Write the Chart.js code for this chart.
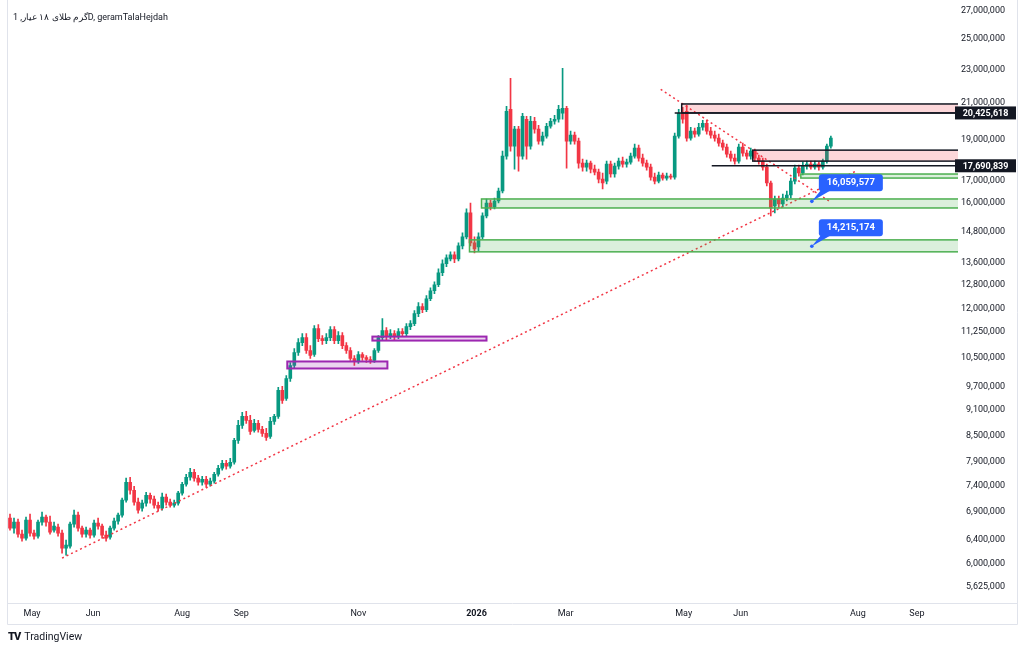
<!DOCTYPE html>
<html lang="fa">
<head>
<meta charset="UTF-8">
<title>گرم طلای ۱۸ عیار, 1D</title>
<script src="https://cdn.jsdelivr.net/npm/chart.js"></script>
<style>
    body {
        margin: 0;
        background: #fff;
        font-family: Roboto, "Noto Sans", sans-serif;
    }
    #wrap {
        position: relative;
        width: 1024px;
        height: 650px;
        overflow: hidden;
    }
    #title {
        position: absolute;
        left: 13px;
        top: 12px;
        font-size: 9px;
        color: #131722;
        direction: ltr;
    }
    #logo {
        position: absolute;
        left: 8px;
        top: 630px;
        font-size: 10.5px;
        color: #131722;
    }
    #logo b {
        font-weight: 900;
        font-size: 11px;
        letter-spacing: -1px;
        margin-right: 4px;
    }
</style>
</head>
<body>
<div id="wrap">
    <canvas id="chart" width="1024" height="650"></canvas>
    <div id="title">گرم طلای ۱۸ عیار, 1D, geramTalaHejdah</div>
    <div id="logo"><b>TV</b>TradingView</div>
</div>
<script>
    // daily candles, prices in thousands
    const opens = [
        6784, 6602, 6711, 6495, 6425, 6747, 6513, 6460, 6711, 6802,
        6711, 6566, 6620, 6513, 6253, 6287, 6674, 6839, 6602, 6495,
        6566, 6477, 6692, 6638, 6477, 6442, 6602, 6729, 6839, 7124,
        7481, 7320, 7086, 6970, 7066, 7221, 7143, 7027, 6970, 7182,
        7086, 7027, 7066, 7261, 7440, 7583, 7687, 7563, 7481, 7542,
        7440, 7502, 7645, 7771, 7877, 7813, 7898, 8384, 8732, 8949,
        8852, 8615, 8780, 8639, 8545, 8476, 8828, 8949, 9602, 9396,
        9920, 10276, 10646, 10938, 11087, 10703, 10588, 11362, 11057, 10997,
        11087, 11331, 10997, 11147, 10849, 10703, 10474, 10389, 10588, 10503,
        10446, 10417, 10703, 11087, 11300, 11117, 11208, 11117, 11269, 11208,
        11423, 11516, 11833, 12059, 11961, 12323, 12594, 12801, 13225, 13552,
        13736, 13886, 13736, 14229, 14581, 15561, 14346, 14191, 14581, 15435,
        15989, 15816, 16076, 16517, 18162, 20631, 18661, 19542, 18162, 20079,
        18661, 19970, 19542, 18916, 19174, 19701, 19970, 20079, 20409, 20687,
        18916, 19226, 18916, 17821, 17628, 17821, 17533, 17392, 17064, 16971,
        17772, 17299, 17676, 17917, 17772, 17869, 18162, 18561, 18064, 17821,
        17628, 17157, 16971, 17252, 17110, 17203, 17157, 19174, 20409, 20519,
        19071, 19436, 19279, 19648, 19862, 19436, 19226, 19071, 18814, 18611,
        18261, 18064, 17917, 18611, 18311, 18162, 18410, 18064, 17917, 17628,
        16881, 15859, 16164, 15946, 16207, 16339, 16971, 17581, 17345, 17676,
        17772, 17628, 17772, 17628, 17917, 18661
    ];
    const highs = [
        6858, 6784, 6765, 6566, 6802, 6858, 6566, 6747, 6896, 6839,
        6821, 6711, 6674, 6566, 6390, 6711, 6933, 6896, 6638, 6620,
        6602, 6747, 6784, 6674, 6548, 6638, 6784, 6877, 7163, 7563,
        7583, 7400, 7163, 7124, 7280, 7261, 7202, 7086, 7261, 7241,
        7143, 7124, 7300, 7481, 7645, 7771, 7750, 7624, 7604, 7604,
        7563, 7687, 7834, 7941, 7941, 7985, 8430, 8852, 9046, 9071,
        8973, 8876, 8852, 8709, 8662, 8925, 8997, 9681, 9708, 10001,
        10361, 10761, 11057, 11208, 11208, 10849, 11454, 11485, 11147, 11208,
        11423, 11423, 11269, 11239, 10938, 10791, 10559, 10674, 10646, 10559,
        10531, 10761, 11147, 11673, 11393, 11331, 11300, 11362, 11362, 11516,
        11610, 11929, 12192, 12160, 12425, 12697, 12905, 13369, 13699, 13886,
        13999, 13999, 14346, 14740, 15731, 15989, 14581, 14740, 15561, 16164,
        16120, 16207, 16653, 18410, 20799, 22440, 19701, 19701, 20409, 20243,
        20243, 20188, 19755, 19384, 19862, 20134, 20298, 20856, 23057, 20799,
        19436, 19384, 19071, 18015, 17965, 17917, 17724, 17533, 17345, 17917,
        17917, 17821, 18064, 18113, 18015, 18311, 18763, 18712, 18261, 17965,
        17772, 17345, 17392, 17345, 17345, 17299, 19331, 20631, 20743, 20856,
        19648, 19595, 19862, 20025, 20025, 19648, 19436, 19279, 18967, 18763,
        18410, 18261, 18763, 18814, 18460, 18561, 18510, 18211, 18064, 17772,
        16971, 16295, 16295, 16384, 16517, 17110, 17724, 17724, 17869, 17917,
        17917, 17917, 17869, 18015, 18763, 19174
    ];
    const lows = [
        6566, 6513, 6442, 6373, 6390, 6460, 6407, 6425, 6656, 6638,
        6495, 6531, 6460, 6169, 6135, 6253, 6620, 6548, 6442, 6442,
        6425, 6442, 6584, 6425, 6373, 6407, 6566, 6674, 6802, 7086,
        7241, 7027, 6877, 6914, 7008, 7066, 6970, 6914, 6933, 7027,
        6989, 6989, 7027, 7221, 7400, 7522, 7502, 7420, 7420, 7380,
        7400, 7461, 7604, 7729, 7750, 7771, 7855, 8316, 8662, 8780,
        8522, 8569, 8569, 8476, 8384, 8430, 8756, 8900, 9270, 9345,
        9840, 10193, 10559, 10849, 10617, 10474, 10531, 10967, 10879, 10908,
        10997, 10908, 10908, 10761, 10617, 10417, 10276, 10332, 10417, 10361,
        10332, 10361, 10646, 11027, 11027, 11057, 11027, 11057, 11117, 11147,
        11331, 11454, 11737, 11865, 11897, 12257, 12492, 12732, 13117, 13441,
        13662, 13588, 13662, 14113, 14501, 14229, 13961, 14037, 14501, 15352,
        15688, 15731, 15989, 16428, 18015, 18410, 17533, 17438, 18015, 18015,
        18510, 19331, 18763, 18712, 19071, 19595, 19809, 19916, 20079, 17581,
        18763, 18763, 17581, 17438, 17438, 17345, 17252, 16881, 16607, 16835,
        17157, 17157, 17533, 17628, 17628, 17772, 18064, 17917, 17676, 17486,
        17017, 16835, 16881, 17017, 17017, 17064, 17064, 19071, 19862, 18916,
        18967, 19122, 19174, 19489, 19279, 19071, 18916, 18661, 18460, 18113,
        17917, 17772, 17821, 18162, 18015, 18015, 17917, 17772, 17486, 16743,
        15435, 15561, 15773, 15816, 16076, 16207, 16835, 17203, 17252, 17533,
        17533, 17533, 17486, 17533, 17821, 18561
    ];
    const closes = [
        6602, 6711, 6495, 6425, 6747, 6513, 6460, 6711, 6802, 6711,
        6531, 6638, 6513, 6253, 6304, 6674, 6839, 6602, 6495, 6566,
        6477, 6692, 6638, 6477, 6425, 6602, 6729, 6839, 7124, 7481,
        7320, 7086, 6933, 7066, 7221, 7143, 7027, 6970, 7182, 7086,
        7027, 7066, 7261, 7440, 7583, 7687, 7563, 7481, 7542, 7440,
        7502, 7645, 7771, 7877, 7813, 7898, 8384, 8732, 8949, 8852,
        8592, 8780, 8639, 8545, 8453, 8828, 8949, 9602, 9345, 9920,
        10276, 10646, 10938, 11087, 10703, 10559, 11362, 11057, 10997, 11087,
        11331, 10997, 11147, 10849, 10703, 10474, 10389, 10588, 10503, 10446,
        10417, 10703, 11087, 11300, 11117, 11208, 11117, 11269, 11208, 11423,
        11516, 11833, 12059, 11961, 12323, 12594, 12801, 13225, 13552, 13774,
        13886, 13736, 14229, 14581, 15561, 14346, 14113, 14581, 15435, 15989,
        15816, 16076, 16517, 18162, 20519, 18661, 19542, 18162, 20243, 18661,
        19970, 19542, 18916, 19174, 19701, 19970, 20079, 20631, 20687, 18916,
        19226, 18916, 17821, 17628, 17821, 17533, 17392, 17064, 16881, 17772,
        17299, 17676, 17917, 17772, 17869, 18162, 18561, 18064, 17821, 17628,
        17157, 16971, 17252, 17110, 17203, 17157, 19174, 20409, 20079, 19071,
        19436, 19279, 19648, 19862, 19436, 19226, 19071, 18814, 18611, 18261,
        18064, 17917, 18611, 18311, 18162, 18410, 18064, 17917, 17628, 16881,
        15773, 16164, 15946, 16207, 16339, 16971, 17581, 17345, 17676, 17772,
        17628, 17772, 17628, 17917, 18661, 19071
    ];

    // time axis labels (positions in candle index)
    const monthLabels = ['May', 'Jun', 'Aug', 'Sep', 'Nov', '2026', 'Mar', 'May', 'Jun', 'Aug', 'Sep'];
    const monthPos = [5.5, 20.75, 43, 57.75, 87, 116.5, 138.75, 168.25, 182.5, 211.75, 226.5];

    // price axis labels (thousands)
    const priceTicks = [5625, 6000, 6400, 6900, 7400, 7900, 8500, 9100, 9700, 10500, 11250,
        12000, 12800, 13600, 14800, 16000, 17000, 19000, 21000, 23000, 25000, 27000];

    // drawings
    const trendUp = [{ x: 13, y: 6086 }, { x: 211.25, y: 17438 }];
    const trendDown = [{ x: 162.5, y: 21781 }, { x: 204.5, y: 16076 }];

    const zones = [
        { from: 167.75, to: null, top: 20930, bottom: 20425.618, kind: 'supply' },
        { from: 185.5, to: null, top: 18460, bottom: 17917, kind: 'supply' },
        { from: 197.5, to: null, top: 17299, bottom: 17110, kind: 'demand' },
        { from: 117.75, to: null, top: 16164, bottom: 15773, kind: 'demand' },
        { from: 114.75, to: null, top: 14462, bottom: 13999, kind: 'demand' },
        { from: 69.25, to: 94.25, top: 10389, bottom: 10193, kind: 'base' },
        { from: 90.5, to: 119, top: 11117, bottom: 10997, kind: 'base' }
    ];
    const levels = [
        { from: 166, price: 20425.618 },
        { from: 175.25, price: 17690.839 }
    ];
    const callouts = [
        { x: 200.25, price: 16059.577 },
        { x: 200.25, price: 14215.174 }
    ];

    const upColor = '#089981';
    const downColor = '#f23645';
    const zoneStyle = {
        supply: { fill: 'rgba(242, 54, 69, 0.2)', line: '#131722', width: 1.5 },
        demand: { fill: 'rgba(76, 175, 80, 0.2)', line: '#4caf50', width: 1.5 },
        base: { fill: 'rgba(156, 39, 176, 0.2)', line: '#9c27b0', width: 2 }
    };

    const fmt = v => Math.round(v * 1000).toLocaleString('en-US');

    const candleColors = closes.map((c, i) => c >= opens[i] ? upColor : downColor);
    const wickData = opens.map((o, i) => ({ x: i, y: [lows[i], highs[i]] }));
    const bodyData = opens.map((o, i) => ({ x: i, y: [o, closes[i]] }));

    const frame = {
        id: 'frame',
        afterDraw(chart) {
            const ctx = chart.ctx;
            const a = chart.chartArea;
            ctx.save();
            ctx.strokeStyle = '#e0e3eb';
            ctx.lineWidth = 1;
            ctx.beginPath();
            ctx.moveTo(7.5, 0); ctx.lineTo(7.5, 624.5);
            ctx.moveTo(1017.5, 0); ctx.lineTo(1017.5, 624.5);
            ctx.moveTo(7.5, a.bottom + 0.5); ctx.lineTo(1017.5, a.bottom + 0.5);
            ctx.moveTo(7.5, 624.5); ctx.lineTo(1017.5, 624.5);
            ctx.stroke();
            ctx.restore();
        }
    };

    const drawings = {
        id: 'drawings',
        afterDatasetsDraw(chart) {
            const { ctx, chartArea: a, scales: { x, y } } = chart;
            ctx.save();
            ctx.beginPath();
            ctx.rect(a.left, a.top, a.right - a.left, a.bottom - a.top);
            ctx.clip();

            zones.forEach(z => {
                const s = zoneStyle[z.kind];
                const x0 = x.getPixelForValue(z.from);
                const x1 = z.to == null ? a.right + 3 : x.getPixelForValue(z.to);
                const y0 = y.getPixelForValue(z.top);
                const y1 = y.getPixelForValue(z.bottom);
                ctx.fillStyle = s.fill;
                ctx.fillRect(x0, y0, x1 - x0, y1 - y0);
                ctx.strokeStyle = s.line;
                ctx.lineWidth = s.width;
                ctx.strokeRect(x0, y0, x1 - x0, y1 - y0);
            });

            ctx.strokeStyle = '#131722';
            ctx.lineWidth = 1.5;
            levels.forEach(l => {
                const py = y.getPixelForValue(l.price);
                ctx.beginPath();
                ctx.moveTo(x.getPixelForValue(l.from), py);
                ctx.lineTo(a.right, py);
                ctx.stroke();
            });

            ctx.font = 'bold 9.5px Roboto, sans-serif';
            ctx.textAlign = 'center';
            ctx.textBaseline = 'middle';
            callouts.forEach(c => {
                const px = x.getPixelForValue(c.x);
                const py = y.getPixelForValue(c.price);
                ctx.fillStyle = '#2962ff';
                ctx.beginPath();
                ctx.moveTo(px + 9, py - 11);
                ctx.lineTo(px + 19, py - 11);
                ctx.lineTo(px, py);
                ctx.closePath();
                ctx.fill();
                ctx.beginPath();
                ctx.arc(px, py, 1.8, 0, Math.PI * 2);
                ctx.fill();
                ctx.beginPath();
                ctx.roundRect(px + 7, py - 27, 64, 17, 3);
                ctx.fill();
                ctx.fillStyle = '#fff';
                ctx.fillText(fmt(c.price), px + 39, py - 18.5);
            });
            ctx.restore();

            // price labels on the axis
            ctx.save();
            ctx.font = 'bold 9px Roboto, sans-serif';
            ctx.textAlign = 'center';
            ctx.textBaseline = 'middle';
            levels.forEach(l => {
                const py = y.getPixelForValue(l.price);
                ctx.fillStyle = '#131722';
                ctx.fillRect(a.right - 3, py - 6.5, 61, 13);
                ctx.fillStyle = '#fff';
                ctx.fillText(fmt(l.price), a.right + 27.5, py + 0.5);
            });
            ctx.restore();
        }
    };

    new Chart(document.getElementById('chart'), {
        type: 'bar',
        data: {
            datasets: [
                { data: wickData, backgroundColor: candleColors, barThickness: 1, grouped: false, order: 3 },
                { data: bodyData, backgroundColor: candleColors, barThickness: 3, minBarLength: 1, grouped: false, order: 2 },
                { type: 'line', data: trendUp, borderColor: '#f23645', borderWidth: 1.5, borderDash: [2, 3], pointRadius: 0, order: 1 },
                { type: 'line', data: trendDown, borderColor: '#f23645', borderWidth: 1.5, borderDash: [2, 3], pointRadius: 0, order: 1 }
            ]
        },
        options: {
            responsive: false,
            animation: false,
            layout: { padding: { left: 8, top: 8, right: 19, bottom: 26 } },
            plugins: {
                legend: { display: false },
                tooltip: { enabled: false }
            },
            scales: {
                x: {
                    type: 'linear',
                    min: -0.5,
                    max: 236.75,
                    offset: false,
                    grid: { display: false, drawTicks: false },
                    border: { display: false },
                    afterFit: s => { s.height = 21; },
                    afterBuildTicks: s => { s.ticks = monthPos.map(v => ({ value: v })); },
                    ticks: {
                        autoSkip: false,
                        maxRotation: 0,
                        padding: 5,
                        color: '#131722',
                        font: c => ({
                            family: 'Roboto, sans-serif',
                            size: 9,
                            weight: c.tick && monthLabels[monthPos.indexOf(c.tick.value)] === '2026' ? 'bold' : 'normal'
                        }),
                        callback: v => monthLabels[monthPos.indexOf(v)] ?? ''
                    }
                },
                y: {
                    type: 'logarithmic',
                    position: 'right',
                    min: 5386,
                    max: 27070,
                    grid: { display: false, drawTicks: false },
                    border: { display: false },
                    afterFit: s => { s.width = 47; },
                    afterBuildTicks: s => { s.ticks = priceTicks.map(v => ({ value: v })); },
                    ticks: {
                        autoSkip: false,
                        crossAlign: 'far',
                        padding: 4,
                        color: '#131722',
                        font: { family: 'Roboto, sans-serif', size: 9 },
                        callback: v => fmt(v)
                    }
                }
            }
        },
        plugins: [drawings, frame]
    });
</script>
</body>
</html>
